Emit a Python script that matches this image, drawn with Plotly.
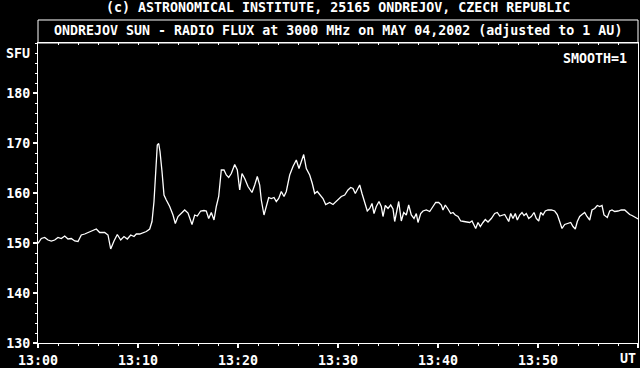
import plotly.graph_objects as go

# time in minutes after 13:00 UT
minutes = [
    0.00, 0.33, 0.67, 1.00, 1.33, 1.67, 2.00, 2.33, 2.67, 3.00, 3.33, 3.67, 4.00, 4.33, 4.67,
    5.00, 5.33, 5.83, 6.17, 6.67, 7.00, 7.27, 7.60, 7.93, 8.27, 8.60, 8.93, 9.27, 9.60, 9.83,
    10.17, 10.50, 10.83, 11.17, 11.40, 11.60, 11.80, 11.93, 12.07, 12.20, 12.40, 12.60, 12.83,
    13.17, 13.50, 13.73, 14.00, 14.33, 14.67, 15.00,
    15.40, 15.67, 15.93, 16.27, 16.60, 16.83, 17.07, 17.33, 17.60, 17.83, 18.07, 18.33, 18.60,
    18.83, 19.07, 19.33, 19.67, 19.93, 20.17, 20.40, 20.67, 21.00, 21.40, 21.67, 21.93, 22.17,
    22.33, 22.60, 22.83, 23.07, 23.33, 23.60, 23.83, 24.07, 24.33, 24.60, 24.83, 25.17, 25.50,
    25.83, 26.10, 26.33, 26.57, 26.83, 27.17, 27.43, 27.67, 27.93, 28.17, 28.50, 28.77, 29.17,
    29.50, 29.83,
    30.00, 30.33, 30.67, 31.00, 31.27, 31.50, 31.73, 31.93, 32.17, 32.40, 32.67, 32.93, 33.17,
    33.40, 33.60, 33.83, 34.10, 34.33, 34.50, 34.73, 35.00, 35.27, 35.50, 35.67, 35.83, 36.07,
    36.33, 36.57, 36.83, 37.07, 37.33, 37.60, 37.83, 38.00, 38.27, 38.50, 38.83, 39.17, 39.50,
    39.77, 40.07, 40.33, 40.50, 40.73, 41.00, 41.27, 41.50, 41.73, 42.00, 42.27, 42.60, 42.93,
    43.17, 43.40, 43.60, 43.77, 44.00, 44.23, 44.50, 44.73,
    45.00, 45.33, 45.67, 45.93, 46.17, 46.40, 46.67, 46.90, 47.07, 47.27, 47.50, 47.73, 47.93,
    48.17, 48.40, 48.60, 48.83, 49.07, 49.33, 49.60, 49.83, 50.07, 50.27, 50.50, 50.73, 51.00,
    51.33, 51.67, 51.93, 52.17, 52.40, 52.67, 53.00, 53.27, 53.50, 53.73, 53.93, 54.17, 54.40,
    54.67, 54.90, 55.17, 55.40, 55.67, 55.93, 56.17, 56.40, 56.60, 56.93, 57.17, 57.40, 57.67,
    58.00, 58.33, 58.67, 58.93, 59.17, 59.40, 59.67, 59.93, 60.00,
]

flux_sfu = [
    149.9, 150.9, 151.1, 150.6, 150.4, 150.6, 151.1, 150.9, 151.4, 150.8, 150.9, 150.4, 150.3, 151.6, 151.8,
    152.1, 152.3, 152.8, 152.1, 152.1, 151.6, 148.8, 150.4, 151.7, 150.6, 151.3, 150.8, 151.6, 151.3, 151.8,
    151.8, 152.1, 152.3, 152.8, 154.3, 158.3, 164.9, 169.6, 169.9, 168.3, 164.3, 159.6, 158.6,
    157.3, 155.6, 153.9, 155.3, 155.9, 156.6, 156.0,
    153.7, 155.6, 155.4, 156.4, 156.5, 156.4, 154.9, 156.1, 154.6, 157.3, 159.3, 164.6, 164.6,
    163.6, 163.1, 163.9, 165.7, 164.6, 160.6, 163.9, 162.9, 161.3, 160.1, 161.6, 163.3, 161.6,
    158.6, 155.6, 157.6, 159.1, 158.9, 159.1, 158.3, 158.9, 160.3, 159.3, 160.3, 163.6, 165.3,
    166.6, 164.9, 166.4, 167.7, 164.9, 163.6, 161.9, 159.9, 160.3, 159.7, 158.9, 157.7, 158.1,
    157.7, 158.4,
    158.7, 159.3, 159.6, 160.6, 161.1, 160.9, 159.9, 160.8, 161.6, 159.9, 157.9, 156.4, 156.9,
    157.9, 155.9, 157.3, 158.3, 157.3, 155.3, 157.5, 156.9, 157.6, 156.8, 154.3, 155.9, 158.3,
    154.4, 156.1, 155.6, 157.6, 155.6, 154.9, 155.9, 154.1, 155.9, 156.4, 156.6, 156.3, 157.3,
    158.1, 158.1, 157.6, 156.6, 157.6, 156.8, 155.9, 156.1, 155.6, 155.3, 154.4, 154.3, 154.1,
    154.1, 154.4, 153.7, 152.9, 154.1, 153.3, 154.1, 154.7,
    154.2, 154.9, 155.9, 156.1, 155.4, 155.6, 155.7, 154.9, 154.3, 155.9, 154.9, 155.9, 154.6,
    155.6, 156.1, 155.5, 155.9, 154.9, 155.3, 156.1, 154.9, 154.4, 156.1, 155.6, 156.4, 156.6,
    156.6, 156.4, 155.7, 154.3, 152.9, 153.7, 153.9, 154.1, 153.3, 152.8, 154.3, 155.3, 155.7,
    156.1, 155.3, 154.6, 156.6, 156.9, 157.5, 157.3, 157.5, 155.6, 155.1, 156.4, 156.6, 156.3,
    156.4, 156.6, 156.6, 156.1, 155.7, 155.5, 155.1, 154.9, 154.8,
]

major_tick_min = [0, 10, 20, 30, 40, 50, 60]
major_tick_text = ["13:00", "13:10", "13:20", "13:30", "13:40", "13:50", ""]
y_tick_vals = [130, 140, 150, 160, 170, 180]

FONT = "DejaVu Sans Mono"
FS = 13.3
WHITE = "#ffffff"
TXT = dict(family=FONT, size=FS, color=WHITE, weight="bold")

fig = go.Figure()
fig.add_trace(go.Scatter(
    x=minutes, y=flux_sfu, mode="lines",
    line=dict(color=WHITE, width=1.3), hoverinfo="skip", showlegend=False,
))
# helper trace to carry the top tick axis
fig.add_trace(go.Scatter(x=[0, 60], y=[None, None], xaxis="x2", mode="lines",
                         showlegend=False, hoverinfo="skip"))

fig.update_layout(
    width=640, height=368,
    margin=dict(l=38, r=2, t=43, b=25),
    paper_bgcolor="black", plot_bgcolor="black",
    font=TXT,
    xaxis=dict(
        range=[0, 60], showgrid=False, zeroline=False, automargin=False,
        showline=True, linecolor=WHITE, linewidth=1, mirror=True,
        tickmode="array", tickvals=major_tick_min, ticktext=major_tick_text,
        ticks="outside", ticklen=4, tickwidth=2, tickcolor=WHITE,
        tickfont=TXT, ticklabelstandoff=1,
        minor=dict(dtick=2, ticks="outside", ticklen=2, tickwidth=1, tickcolor=WHITE),
    ),
    xaxis2=dict(
        range=[0, 60], overlaying="x", side="top", anchor="y", automargin=False,
        showgrid=False, zeroline=False, showline=False, showticklabels=False,
        tickmode="linear", tick0=0, dtick=2, ticks="inside", ticklen=2,
        tickwidth=1, tickcolor=WHITE,
    ),
    yaxis=dict(
        range=[130, 190], showgrid=False, zeroline=False, automargin=False,
        showline=True, linecolor=WHITE, linewidth=1, mirror=True,
        tickmode="array", tickvals=y_tick_vals,
        ticks="outside", ticklen=4, tickwidth=2, tickcolor=WHITE,
        tickfont=TXT,
        minor=dict(dtick=2, ticks="outside", ticklen=2, tickwidth=1, tickcolor=WHITE),
    ),
    shapes=[dict(type="rect", xref="paper", yref="paper", x0=0, x1=1,
                 y0=1, y1=1.0767, line=dict(color=WHITE, width=1))],
    annotations=[
        dict(text="(c) ASTRONOMICAL INSTITUTE, 25165 ONDREJOV, CZECH REPUBLIC",
             xref="paper", yref="paper", x=0.5, y=1.1167, xanchor="center",
             yanchor="middle", showarrow=False, font=TXT),
        dict(text="ONDREJOV SUN - RADIO FLUX at 3000 MHz on MAY 04,2002 (adjusted to 1 AU)",
             xref="paper", yref="paper", x=0.5, y=1.04, xanchor="center",
             yanchor="middle", showarrow=False, font=TXT),
        dict(text="SMOOTH=1", xref="paper", yref="paper", x=1, y=0.95, xshift=-9,
             xanchor="right", yanchor="middle", showarrow=False, font=TXT),
        dict(text="SFU", xref="paper", yref="y", x=0, y=188, xshift=-6,
             xanchor="right", yanchor="middle", showarrow=False, font=TXT),
        dict(text="UT", xref="paper", yref="paper", x=1, y=0, yshift=-15,
             xanchor="right", yanchor="middle", showarrow=False, font=TXT),
    ],
)

fig.write_html("out.html")
